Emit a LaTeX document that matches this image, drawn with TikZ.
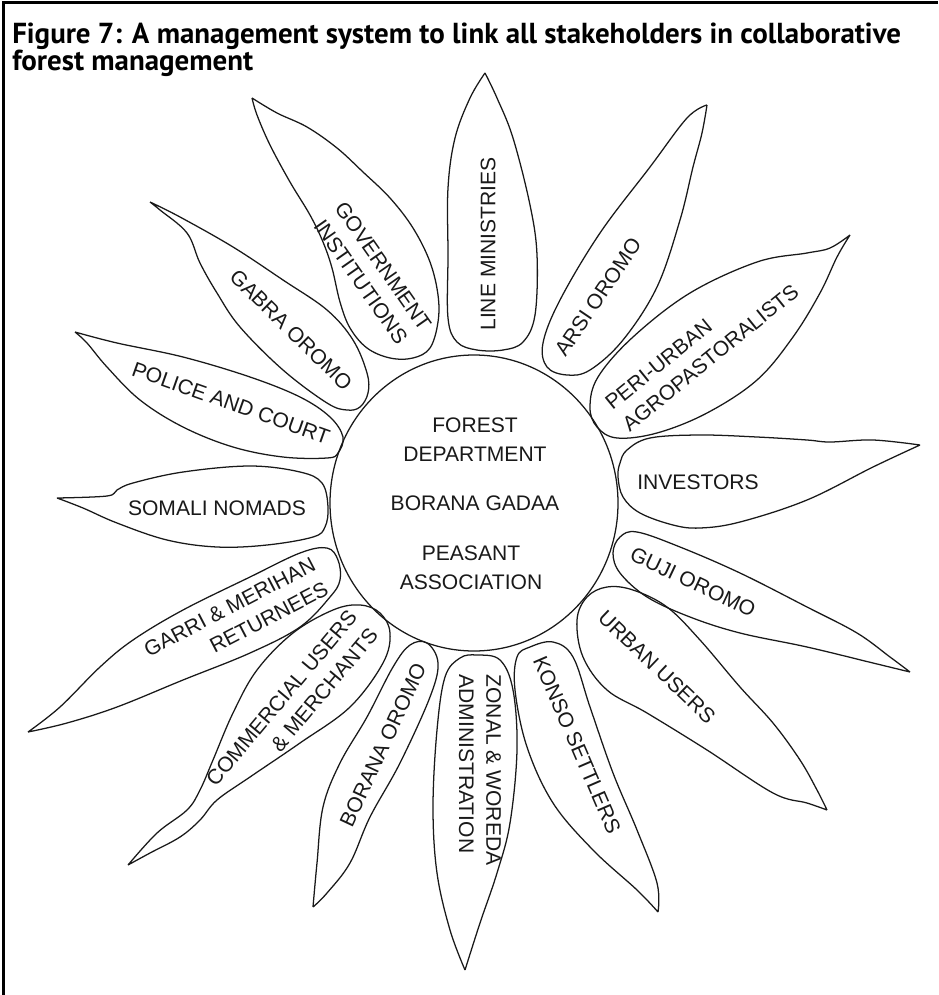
\documentclass[tikz,border=0pt]{standalone}
\usepackage{fontspec}
\setmainfont{Liberation Sans}
\newfontfamily\titlefont{PT Sans}
\begin{document}
\begin{tikzpicture}[x=0.75pt,y=-0.75pt,
  petal/.style={draw=black!90, line width=0.95pt, line join=round},
  ptext/.style={font=\fontsize{15.8}{20.5}\selectfont, inner sep=0pt, text=black!90, align=center},
  ctext/.style={font=\fontsize{15.8}{21.75}\selectfont, inner sep=0pt, text=black!90, align=center},
  ttext/.style={font=\titlefont\bfseries\fontsize{21.7}{24}\selectfont, inner sep=0pt, anchor=base west}]
\useasboundingbox (0,0) rectangle (938,995);
% frame
\draw[line width=2.4pt] (3.5,995) -- (3.5,2.5) -- (938,2.5);
% title
\node[ttext] (title1) at (12,44) {Figure 7: A management system to link all stakeholders in collaborative};
\node[ttext] (title2) at (12,71) {forest management};
% petals
\draw[petal] plot[smooth, tension=0.6] coordinates {(485,73) (470,98) (455,138) (448,188) (448,255) (448,318) (457,342) (477,350) (503,350) (523,342) (535,315) (537,255) (530,205) (513,138) (497,98) (485,73)};
\draw[petal] plot[smooth, tension=0.6] coordinates {(252,98) (257,115) (270,145) (290,182) (310,215) (323,242) (332,268) (340,302) (350,328) (367,348) (390,358) (413,358) (430,348) (438,322) (438,295) (430,262) (413,228) (390,198) (363,172) (337,148) (307,127) (277,113) (252,98)};
\draw[petal] plot[smooth, tension=0.6] coordinates {(150,202) (180,217) (233,247) (283,280) (327,310) (353,340) (367,373) (368,393) (360,407) (347,410) (327,403) (283,370) (240,327) (217,293) (200,263) (187,233) (160,210) (150,202)};
\draw[petal] plot[smooth, tension=0.6] coordinates {(75,332) (117,343) (183,357) (250,377) (300,397) (330,417) (343,437) (338,453) (327,458) (283,457) (233,447) (183,427) (140,400) (107,367) (87,343) (75,332)};
\draw[petal] plot[smooth, tension=0.6] coordinates {(57,498) (107,496) (117,490) (133,483) (183,472) (250,466) (300,472) (322,483) (328,507) (325,527) (313,537) (267,545) (217,547) (167,540) (117,523) (83,508) (57,498)};
\draw[petal] plot[smooth, tension=0.6] coordinates {(28,732) (60,707) (100,667) (133,640) (183,610) (250,577) (300,553) (327,548) (338,560) (340,580) (330,597) (300,627) (250,653) (183,680) (117,707) (67,723) (28,732)};
\draw[petal] plot[smooth, tension=0.6] coordinates {(128,865) (157,833) (187,810) (200,790) (213,760) (233,713) (257,670) (293,633) (333,610) (360,605) (380,613) (390,633) (383,663) (350,707) (300,743) (250,777) (217,800) (200,820) (180,837) (150,853) (128,865)};
\draw[petal] plot[smooth, tension=0.6] coordinates {(313,907) (317,863) (323,807) (340,763) (367,717) (393,667) (410,645) (427,643) (438,663) (430,697) (400,763) (370,817) (350,863) (327,893) (313,907)};
\draw[petal] plot[smooth, tension=0.6] coordinates {(465,970) (450,930) (437,873) (433,807) (437,730) (445,677) (460,658) (477,655) (500,660) (513,690) (517,750) (510,823) (497,873) (480,923) (465,970)};
\draw[petal] plot[smooth, tension=0.6] coordinates {(658,912) (637,890) (593,850) (553,803) (527,747) (515,690) (517,657) (530,647) (553,642) (573,657) (590,707) (613,773) (637,830) (657,883) (658,912)};
\draw[petal] plot[smooth, tension=0.6] coordinates {(827,810) (817,790) (800,760) (773,723) (740,687) (700,640) (667,607) (633,590) (607,587) (587,597) (577,620) (583,657) (607,690) (647,713) (707,750) (773,793) (807,803) (827,810)};
\draw[petal] plot[smooth, tension=0.6] coordinates {(910,672) (890,657) (857,633) (807,607) (740,573) (680,547) (637,532) (620,537) (613,553) (620,573) (647,597) (690,617) (740,633) (807,647) (873,663) (910,672)};
\draw[petal] plot[smooth, tension=0.6] coordinates {(920,445) (873,440) (830,442) (807,440) (757,437) (700,435) (650,438) (627,450) (620,463) (618,477) (623,497) (640,513) (673,525) (700,528) (740,522) (807,500) (873,467) (920,445)};
\draw[petal] plot[smooth, tension=0.6] coordinates {(850,235) (830,248) (807,253) (757,262) (690,293) (633,337) (598,377) (590,407) (597,427) (617,438) (657,433) (707,413) (757,380) (793,337) (820,293) (837,257) (850,235)};
\draw[petal] plot[smooth, tension=0.6] coordinates {(707,105) (687,118) (650,167) (600,233) (560,300) (543,343) (547,367) (567,375) (590,370) (623,340) (657,287) (680,220) (693,167) (702,133) (707,105)};
% centre
\draw[petal] (474,503) ellipse [x radius=108pt, y radius=111pt];
\node[ctext] (forest) at (475,440) {FOREST\\DEPARTMENT};
\node[ctext] (gadaa) at (475,503) {BORANA GADAA};
\node[ctext] (peasant) at (471,568) {PEASANT\\ASSOCIATION};
% petal labels
\node[ptext, rotate=90] (line) at (488,244) {LINE MINISTRIES};
\node[ptext, rotate=-55] (gov) at (372,274) {GOVERNMENT\\INSTITUTIONS};
\node[ptext, rotate=-44.5] (gabra) at (291,330) {GABRA OROMO};
\node[ptext, rotate=-19.5] (police) at (231,403) {POLICE AND COURT};
\node[ptext] (somali) at (217,508) {SOMALI NOMADS};
\node[ptext, rotate=27.5, align=right] (garri) at (236,619) {GARRI \& MERIHAN\\RETURNEES};
\node[ptext, rotate=50, align=right] (comm) at (292,707) {COMMERCIAL USERS\\\& MERCHANTS};
\node[ptext, rotate=65] (borana) at (383,745) {BORANA OROMO};
\node[ptext, rotate=-90, align=left] (zonal) at (480,770) {ZONAL \& WOREDA\\ADMINISTRATION};
\node[ptext, rotate=-66.7] (konso) at (577,745) {KONSO SETTLERS};
\node[ptext, rotate=-43.7] (urban) at (657,667) {URBAN USERS};
\node[ptext, rotate=-25.3] (guji) at (693,582) {GUJI OROMO};
\node[ptext] (invest) at (698,482) {INVESTORS};
\node[ptext, rotate=39, align=left] (peri) at (702,347) {PERI-URBAN\\AGROPASTORALISTS};
\node[ptext, rotate=56] (arsi) at (598,297) {ARSI OROMO};
\end{tikzpicture}
\end{document}
